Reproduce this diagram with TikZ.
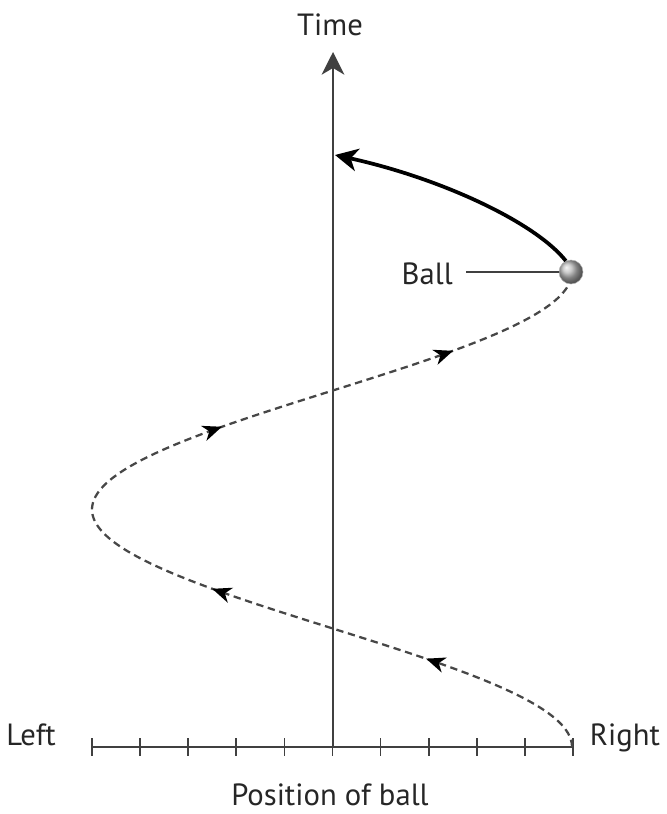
\documentclass[tikz,border=0pt]{standalone}
\usepackage{fontspec}
\setmainfont{PT Sans}
\usetikzlibrary{arrows.meta}
\begin{document}
\begin{tikzpicture}[x=0.75pt,y=-0.75pt,
  lbl/.style={font=\fontsize{23}{27}\selectfont, text=black!85, inner sep=0pt},
  axisline/.style={line width=1.3pt, draw=black!75},
  bigtip/.style={-{Stealth[length=17pt,width=17pt,inset=5pt]}},
  pathline/.style={line width=1.7pt, draw=black!72, dash pattern=on 5.5pt off 3.5pt},
  travel/.style={line width=2.8pt, draw=black},
  dashtip/.pic={\fill[black] (7.5pt,0) -- (-7pt,6pt) -- (-2.5pt,0) -- (-7pt,-6pt) -- cycle;}
]
\useasboundingbox (0,0) rectangle (667,814);

% axes
\coordinate (Lend) at (92,747);
\coordinate (Rend) at (573,747);
\coordinate (O) at (333,747);
\coordinate (Ttop) at (333,52);
\draw[axisline] (Lend) -- (Rend);
\foreach \i in {0,...,10} {
  \draw[axisline] ({92+48.1*\i},738) -- ++(0,18);
}
\draw[axisline, bigtip] (O) -- (Ttop);

% labels
\node[lbl] (time) at (330,25) {Time};
\node[lbl, anchor=base] (left) at (31,745) {Left};
\node[lbl, anchor=base] (right) at (625,745) {Right};
\node[lbl, anchor=base] (pos) at (330,805) {Position of ball};

% dashed trajectory
\draw[pathline]
  plot[domain=0:1, samples=240, variable=\t] ({332+240*cos(360*\t)}, {747-475*\t});
\foreach \t in {0.179,0.326,0.667,0.827} {
  \pgfmathsetmacro\ang{atan2(475, -1508*sin(360*\t))}
  \pic[rotate=\ang] at ({332+240*cos(360*\t)},{747-475*\t}) {dashtip};
}

% ball
\node[circle, minimum size=18pt, inner sep=0pt, shading=ball, ball color=gray!55, draw=gray!60, line width=0.4pt] (ball) at (571,272) {};
\node[lbl, anchor=base east] (balllbl) at (453,284) {Ball};
\coordinate (lblend) at (466,272);
\draw[line width=1.3pt, draw=black!75] (lblend) -- (ball.west);

% solid future path
\coordinate (hit) at (335,155);
\draw[travel, bigtip] (ball.115) .. controls (535,222) and (440,178) .. (hit);
\end{tikzpicture}
\end{document}
